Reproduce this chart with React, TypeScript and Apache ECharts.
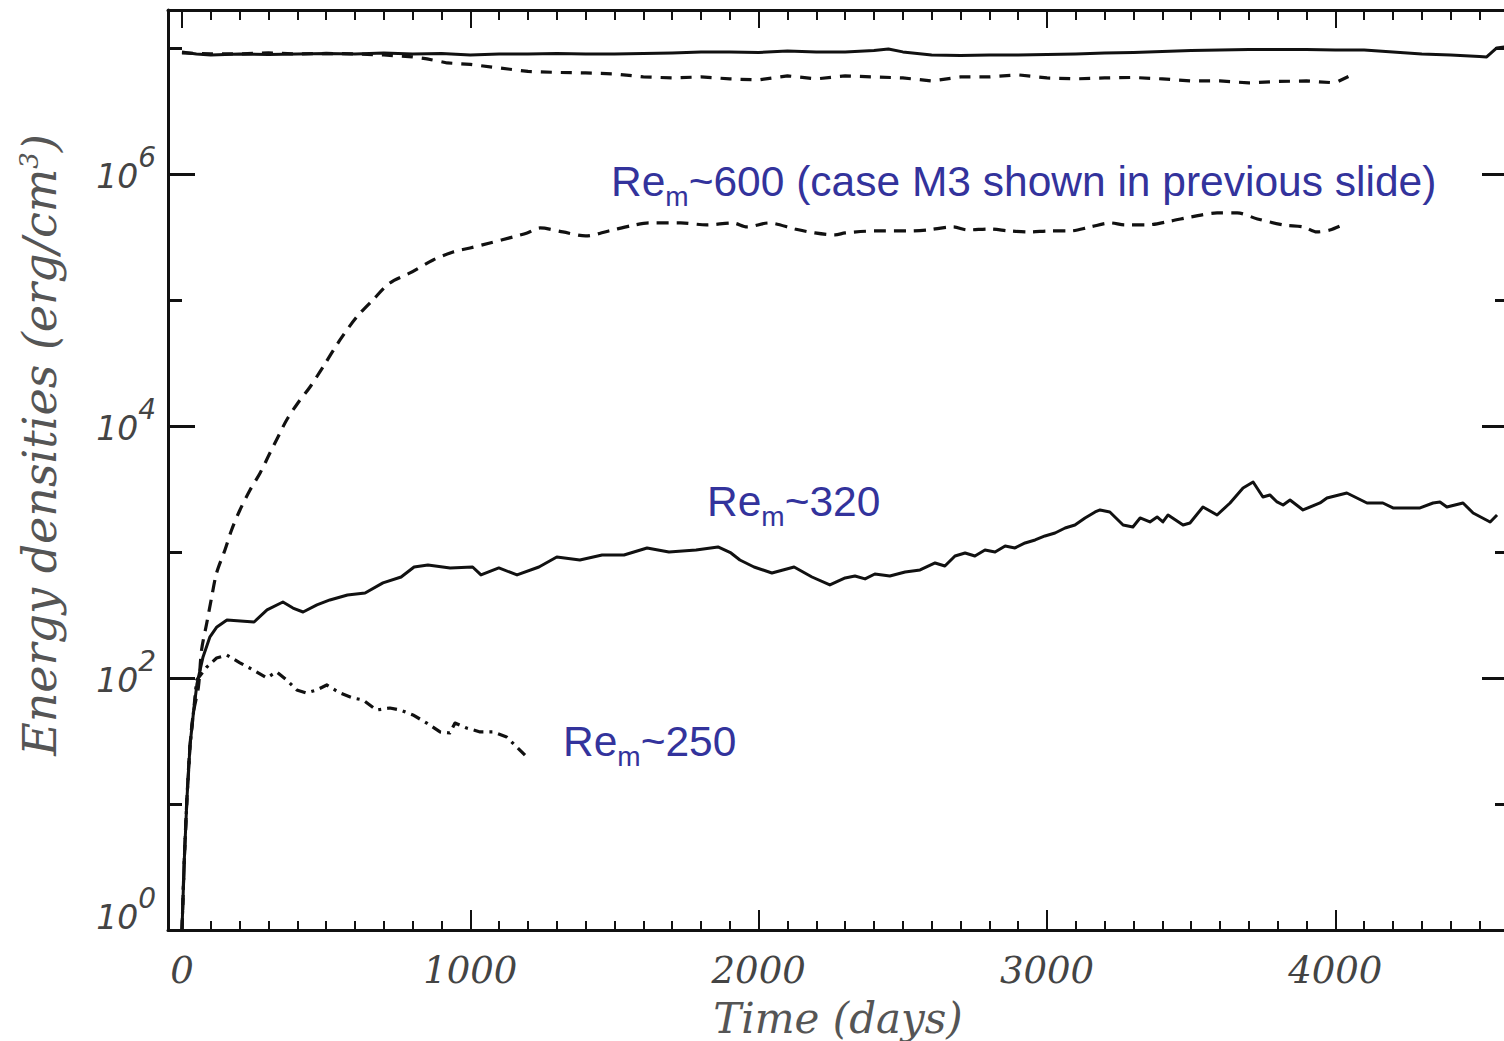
import React, { useEffect, useRef } from "react";
import * as echarts from "echarts";

// ---- Data (time in days, energy density in erg/cm^3) ----
// Re_m~600: upper solid curve
const kin600T = [0, 50, 100, 200, 300, 400, 500, 600, 700, 800, 900, 1000, 1100, 1200, 1300, 1400, 1500, 1600, 1700, 1800, 1900, 2000, 2100, 2200, 2300, 2400, 2450, 2500, 2600, 2700, 2800, 2900, 3000, 3100, 3200, 3300, 3400, 3500, 3600, 3700, 3800, 3900, 4000, 4100, 4200, 4300, 4400, 4500, 4525, 4560, 4590];
const kin600V = [9.30e6, 8.96e6, 8.80e6, 8.96e6, 8.88e6, 8.96e6, 9.04e6, 8.96e6, 9.13e6, 8.96e6, 9.04e6, 8.80e6, 8.96e6, 8.96e6, 9.04e6, 8.96e6, 8.96e6, 9.04e6, 9.13e6, 9.30e6, 9.30e6, 9.21e6, 9.47e6, 9.30e6, 9.30e6, 9.56e6, 9.82e6, 9.30e6, 8.80e6, 8.72e6, 8.80e6, 8.80e6, 8.88e6, 8.96e6, 9.13e6, 9.21e6, 9.38e6, 9.56e6, 9.64e6, 9.73e6, 9.73e6, 9.73e6, 9.64e6, 9.64e6, 9.30e6, 8.96e6, 8.80e6, 8.56e6, 8.48e6, 1.00e7, 1.02e7];

// upper dashed curve
const kinDashT = [0, 100, 200, 300, 400, 500, 600, 700, 800, 850, 920, 1000, 1100, 1200, 1300, 1400, 1500, 1600, 1700, 1800, 1900, 2000, 2100, 2200, 2300, 2400, 2500, 2600, 2700, 2800, 2900, 3000, 3100, 3200, 3300, 3400, 3500, 3600, 3700, 3800, 3900, 4000, 4050];
const kinDashV = [9.13e6, 8.96e6, 8.96e6, 9.13e6, 8.96e6, 9.04e6, 8.96e6, 8.80e6, 8.48e6, 8.18e6, 7.60e6, 7.40e6, 6.94e6, 6.51e6, 6.39e6, 6.33e6, 6.22e6, 5.89e6, 5.78e6, 5.89e6, 5.68e6, 5.57e6, 6.00e6, 5.68e6, 6.00e6, 5.89e6, 5.78e6, 5.47e6, 5.89e6, 5.89e6, 6.11e6, 5.78e6, 5.68e6, 5.78e6, 5.83e6, 5.68e6, 5.47e6, 5.47e6, 5.28e6, 5.42e6, 5.47e6, 5.28e6, 6.00e6];

// Re_m~600 magnetic energy (dashed)
const mag600T = [0, 8, 17, 28, 40, 57, 68, 86, 103, 120, 149, 172, 201, 236, 271, 305, 333, 363, 402, 444, 489, 548, 606, 662, 721, 791, 871, 940, 999, 1068, 1148, 1197, 1242, 1321, 1400, 1480, 1570, 1620, 1730, 1820, 1910, 1960, 2035, 2125, 2195, 2265, 2300, 2405, 2515, 2585, 2675, 2725, 2800, 2870, 2940, 3010, 3080, 3150, 3220, 3270, 3345, 3430, 3500, 3590, 3660, 3730, 3820, 3890, 3936, 3981, 4040];
const mag600V = [1, 3.59, 10.8, 29.4, 53.7, 84.8, 167, 273, 439, 681, 1037, 1495, 2154, 3105, 4236, 6105, 8178, 11160, 15220, 20390, 29390, 48140, 73330, 100000, 136400, 163800, 207700, 240400, 258700, 283500, 316200, 340200, 372700, 346500, 322000, 352900, 393800, 408500, 408500, 393800, 408500, 379700, 408500, 366000, 340200, 328000, 340200, 352900, 352900, 359400, 379700, 359400, 366000, 352900, 346500, 352900, 352900, 379700, 408500, 393800, 393800, 423600, 455800, 490300, 490300, 439500, 393800, 379700, 346500, 359400, 408500];

// Re_m~320 magnetic energy (solid)
const mag320T = [0, 8, 17, 28, 40, 52, 73, 97, 121, 156, 250, 295, 350, 385, 420, 468, 513, 574, 635, 697, 760, 805, 853, 930, 1008, 1037, 1099, 1162, 1238, 1300, 1380, 1457, 1533, 1613, 1689, 1783, 1859, 1904, 1935, 1984, 2046, 2123, 2185, 2247, 2300, 2334, 2369, 2403, 2455, 2508, 2560, 2612, 2646, 2681, 2716, 2750, 2785, 2820, 2855, 2889, 2924, 2959, 2993, 3028, 3063, 3097, 3132, 3167, 3184, 3218, 3264, 3298, 3323, 3357, 3382, 3402, 3420, 3472, 3496, 3541, 3590, 3635, 3659, 3680, 3715, 3749, 3773, 3798, 3819, 3843, 3888, 3947, 3971, 4040, 4110, 4165, 4200, 4249, 4294, 4339, 4363, 4387, 4443, 4478, 4537, 4561];
const mag320V = [1, 3.59, 10.8, 29.4, 53.7, 90, 147, 212, 254, 289, 278, 347, 401, 359, 334, 380, 416, 456, 473, 568, 633, 760, 789, 747, 760, 657, 747, 657, 760, 913, 864, 947, 947, 1076, 1000, 1037, 1096, 982, 864, 760, 681, 760, 633, 547, 622, 645, 611, 669, 645, 694, 720, 818, 774, 930, 982, 930, 1037, 1000, 1116, 1076, 1179, 1245, 1340, 1415, 1550, 1638, 1862, 2077, 2154, 2077, 1638, 1579, 1862, 1730, 1896, 1730, 1966, 1638, 1699, 2276, 1966, 2448, 2835, 3220, 3594, 2733, 2835, 2494, 2360, 2587, 2154, 2448, 2683, 2939, 2448, 2448, 2235, 2235, 2235, 2448, 2494, 2276, 2448, 2039, 1730, 1966];

// Re_m~250 magnetic energy (dash-dot)
const mag250T = [0, 8, 17, 28, 40, 51, 86, 120, 155, 201, 246, 294, 328, 363, 398, 432, 467, 502, 548, 593, 628, 675, 721, 756, 801, 849, 895, 929, 947, 987, 1034, 1079, 1126, 1161, 1196];
const mag250V = [1, 3.59, 10.8, 29.4, 53.7, 96.4, 122, 144, 152, 132, 116, 100, 112, 96.4, 80.3, 76.0, 80.3, 88.0, 76.0, 69.4, 66.9, 55.7, 57.8, 55.7, 50.9, 43.9, 37.3, 36.6, 43.9, 40.1, 37.3, 37.3, 34.0, 28.3, 23.6];

// Axis ticks
const xMajorTicks = [0, 1000, 2000, 3000, 4000];
const xMinorTicks = [100, 200, 300, 400, 500, 600, 700, 800, 900, 1100, 1200, 1300, 1400, 1500, 1600, 1700, 1800, 1900, 2100, 2200, 2300, 2400, 2500, 2600, 2700, 2800, 2900, 3100, 3200, 3300, 3400, 3500, 3600, 3700, 3800, 3900, 4100, 4200, 4300, 4400, 4500];
const yMajorTicks = [1, 1e2, 1e4, 1e6];
const yMinorTicks = [10, 1e3, 1e5, 1e7];

const X_MIN = -48.5;
const X_MAX = 4599;
const Y_MIN = 1;
const Y_MAX = 2e7;

const INK = "#111";
const LABEL = "#444";
const TITLE = "#555";
const BLUE = "#33339c";

const pairs = (t: number[], v: number[]) => t.map((d, i) => [d, v[i]]);

function xAxisDef(position: "bottom" | "top", ticks: number[], len: number, showLine: boolean, showLabel: boolean) {
  return {
    type: "value",
    position,
    min: X_MIN,
    max: X_MAX,
    splitLine: { show: false },
    axisLine: { show: showLine, onZero: false, lineStyle: { color: INK, width: 3 } },
    axisTick: { show: true, inside: true, length: len, customValues: ticks, lineStyle: { color: INK, width: 2 } },
    axisLabel: showLabel
      ? {
          show: true,
          customValues: ticks,
          formatter: (v: number) => String(v),
          margin: 22,
          color: LABEL,
          fontFamily: "DejaVu Serif",
          fontStyle: "italic",
          fontSize: 37,
        }
      : { show: false },
  };
}

const yLabelBase = { fontSize: 33, verticalAlign: "top", padding: [17, 0, 0, 0], fontFamily: "DejaVu Sans", fontStyle: "italic", color: LABEL };

function yAxisDef(position: "left" | "right", ticks: number[], len: number, showLine: boolean, showLabel: boolean) {
  return {
    type: "log",
    logBase: 10,
    position,
    min: Y_MIN,
    max: Y_MAX,
    splitLine: { show: false },
    axisLine: { show: showLine, onZero: false, lineStyle: { color: INK, width: 3 } },
    axisTick: { show: true, inside: true, length: len, customValues: ticks, lineStyle: { color: INK, width: 3 } },
    axisLabel: showLabel
      ? {
          show: true,
          customValues: ticks,
          margin: 12,
          formatter: (v: number) => {
            const e = Math.round(Math.log10(v));
            return e === 0 ? `{b0|10}{s|${e}}` : `{b|10}{s|${e}}`;
          },
          rich: {
            b: { ...yLabelBase, lineHeight: 61 },
            b0: { ...yLabelBase, lineHeight: 92 },
            s: { fontSize: 28, verticalAlign: "top", fontFamily: "DejaVu Sans", fontStyle: "italic", color: LABEL },
          },
        }
      : { show: false },
  };
}

const annoRich = {
  a: { fontSize: 42.5, lineHeight: 46, verticalAlign: "top", fontFamily: "Liberation Sans", fill: BLUE },
  m: { fontSize: 28, lineHeight: 50, verticalAlign: "bottom", fontFamily: "Liberation Sans", fill: BLUE },
};

export default function App() {
  const ref = useRef<HTMLDivElement>(null);
  useEffect(() => {
    document.body.style.margin = "0";
    const chart = echarts.init(ref.current!, null, { renderer: "svg" });
    const option: any = {
      animation: false,
      backgroundColor: "#fff",
      grid: { left: 168, top: 10, width: 1340, height: 920, containLabel: false, outerBoundsMode: "none" },
      xAxis: [
        xAxisDef("bottom", xMajorTicks, 20, true, true),
        xAxisDef("bottom", xMinorTicks, 9, false, false),
        xAxisDef("top", xMajorTicks, 18, true, false),
        xAxisDef("top", xMinorTicks, 10, false, false),
      ],
      yAxis: [
        yAxisDef("left", yMajorTicks, 27, true, true),
        yAxisDef("left", yMinorTicks, 14, false, false),
        yAxisDef("right", yMajorTicks, 26, true, false),
        yAxisDef("right", yMinorTicks, 13, false, false),
      ],
      series: [
        { name: "kin600", data: pairs(kin600T, kin600V), smooth: 0, lineStyle: { type: "solid", width: 3 } },
        { name: "kinDash", data: pairs(kinDashT, kinDashV), smooth: 0, lineStyle: { type: [11, 9], width: 3.2 } },
        { name: "mag600", data: pairs(mag600T, mag600V), smooth: 0.3, lineStyle: { type: [12, 8], width: 3.2 } },
        { name: "mag320", data: pairs(mag320T, mag320V), smooth: 0, lineStyle: { type: "solid", width: 3 } },
        { name: "mag250", data: pairs(mag250T, mag250V), smooth: 0, lineStyle: { type: [10, 6, 3, 6], width: 3.2 } },
      ].map((s) => ({
        type: "line",
        xAxisIndex: 0,
        yAxisIndex: 0,
        symbol: "none",
        showSymbol: false,
        silent: true,
        ...s,
        lineStyle: { color: INK, cap: "butt", join: "round", ...s.lineStyle },
      })),
      graphic: [
        {
          type: "text",
          x: 40,
          y: 445,
          rotation: Math.PI / 2,
          style: {
            text: "{a|Energy densities (erg/cm}{s|3}{a|)}",
            align: "center",
            verticalAlign: "middle",
            rich: {
              a: { fontSize: 46, lineHeight: 48, fontFamily: "DejaVu Serif", fontStyle: "italic", fill: TITLE },
              s: { fontSize: 26, lineHeight: 16, verticalAlign: "top", fontFamily: "DejaVu Serif", fontStyle: "italic", fill: TITLE },
            },
          },
        },
        {
          type: "text",
          x: 838,
          y: 1018,
          style: {
            text: "Time (days)",
            align: "center",
            verticalAlign: "middle",
            fontSize: 42,
            fontFamily: "DejaVu Serif",
            fontStyle: "italic",
            fill: TITLE,
          },
        },
        {
          type: "text",
          x: 611,
          y: 160,
          style: { text: "{a|Re}{m|m}{a|~600 (case M3 shown in previous slide)}", align: "left", verticalAlign: "top", rich: annoRich },
        },
        {
          type: "text",
          x: 707,
          y: 480,
          style: { text: "{a|Re}{m|m}{a|~320}", align: "left", verticalAlign: "top", rich: annoRich },
        },
        {
          type: "text",
          x: 563,
          y: 720,
          style: { text: "{a|Re}{m|m}{a|~250}", align: "left", verticalAlign: "top", rich: annoRich },
        },
      ],
    };
    chart.setOption(option);
    return () => chart.dispose();
  }, []);
  return (
    <div style={{ position: "absolute", left: 0, top: 0, width: 1504, height: 1041, overflow: "hidden", background: "#fff" }}>
      <div ref={ref} style={{ width: 1530, height: 1041 }} />
    </div>
  );
}
